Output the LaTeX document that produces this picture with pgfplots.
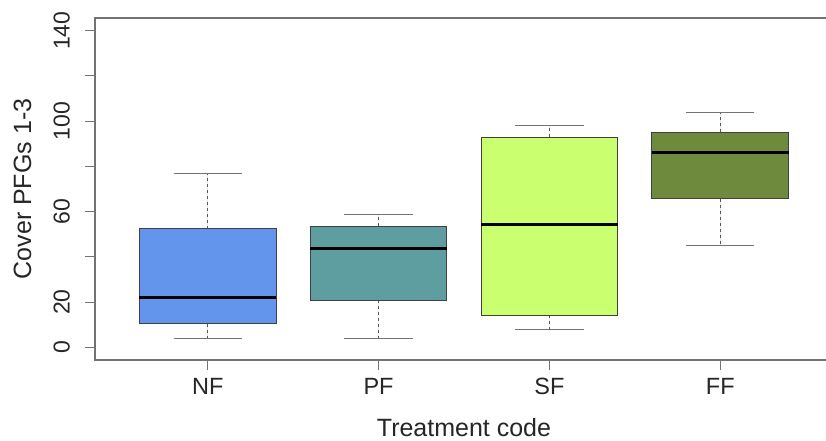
\documentclass[border=0pt]{standalone}
\usepackage{fontspec}
\setmainfont{Liberation Sans}
\usepackage{pgfplots}
\pgfplotsset{compat=1.18}
\usepgfplotslibrary{statistics}
\definecolor{cNF}{HTML}{6495ED}
\definecolor{cPF}{HTML}{5F9EA0}
\definecolor{cSF}{HTML}{CAFF70}
\definecolor{cFF}{HTML}{6E8B3D}
\begin{document}
\begin{tikzpicture}
\fill[white] (-95pt,-81pt) rectangle (731pt,360pt);
\begin{axis}[
  scale only axis, width=738pt, height=342pt,
  xmin=0.34, xmax=4.66, ymin=-5.6, ymax=145.6,
  axis line style={draw=black!55, line width=1.1pt},
  tick align=outside, major tick length=10pt,
  xtick pos=bottom, ytick pos=left,
  tick style={draw=black!55, line width=1pt},
  xtick={1,2,3,4}, xticklabels={NF,PF,SF,FF},
  ytick={0,20,40,60,80,100,120,140}, yticklabels={0,20,{},60,{},100,{},140},
  /pgf/number format/assume math mode=true,
  x tick label style={font=\fontsize{23.5}{26}\selectfont, text=black!85, inner sep=0pt},
  y tick label style={font=\fontsize{23}{26}\selectfont, text=black!85, rotate=90, anchor=south, inner sep=0pt},
  xticklabel shift=8pt, yticklabel shift=15pt,
  xlabel={Treatment code}, ylabel={Cover PFGs 1-3},
  xlabel style={font=\fontsize{25}{28}\selectfont, text=black!85, at={(axis description cs:0.5,-0.199)}, anchor=center},
  ylabel style={font=\fontsize{25}{28}\selectfont, text=black!85, at={(axis description cs:-0.0982,0.5)}, anchor=center},
  boxplot/draw direction=y,
  boxplot/box extend=0.8,
  boxplot/whisker extend=0.4,
  boxplot/every median/.style={draw=black, line width=3pt},
  boxplot/every box/.style={draw=black!75, line width=0.9pt},
  boxplot/draw/lower whisker/.code={
    \draw[black!65, line width=1pt, dash pattern=on 3pt off 3pt]
      (boxplot box cs:\pgfplotsboxplotvalue{lower quartile},0.5) -- (boxplot box cs:\pgfplotsboxplotvalue{lower whisker},0.5);
    \draw[black!55, line width=1pt]
      (boxplot whisker cs:\pgfplotsboxplotvalue{lower whisker},0) -- (boxplot whisker cs:\pgfplotsboxplotvalue{lower whisker},1);
  },
  boxplot/draw/upper whisker/.code={
    \draw[black!65, line width=1pt, dash pattern=on 3pt off 3pt]
      (boxplot box cs:\pgfplotsboxplotvalue{upper quartile},0.5) -- (boxplot box cs:\pgfplotsboxplotvalue{upper whisker},0.5);
    \draw[black!55, line width=1pt]
      (boxplot whisker cs:\pgfplotsboxplotvalue{upper whisker},0) -- (boxplot whisker cs:\pgfplotsboxplotvalue{upper whisker},1);
  },
]
\addplot[fill=cNF, boxplot prepared={draw position=1, lower whisker=3.8, lower quartile=10.5, median=21.9, upper quartile=52.4, upper whisker=76.7}] coordinates {};
\addplot[fill=cPF, boxplot prepared={draw position=2, lower whisker=3.8, lower quartile=20.8, median=43.6, upper quartile=53.6, upper whisker=58.9}] coordinates {};
\addplot[fill=cSF, boxplot prepared={draw position=3, lower whisker=7.8, lower quartile=14.2, median=54.4, upper quartile=92.9, upper whisker=98.0}] coordinates {};
\addplot[fill=cFF, boxplot prepared={draw position=4, lower whisker=45.0, lower quartile=65.7, median=86.1, upper quartile=95.0, upper whisker=103.8}] coordinates {};
\end{axis}
\pgfresetboundingbox
\useasboundingbox (-95pt,-81pt) rectangle (731pt,360pt);
\end{tikzpicture}
\end{document}
